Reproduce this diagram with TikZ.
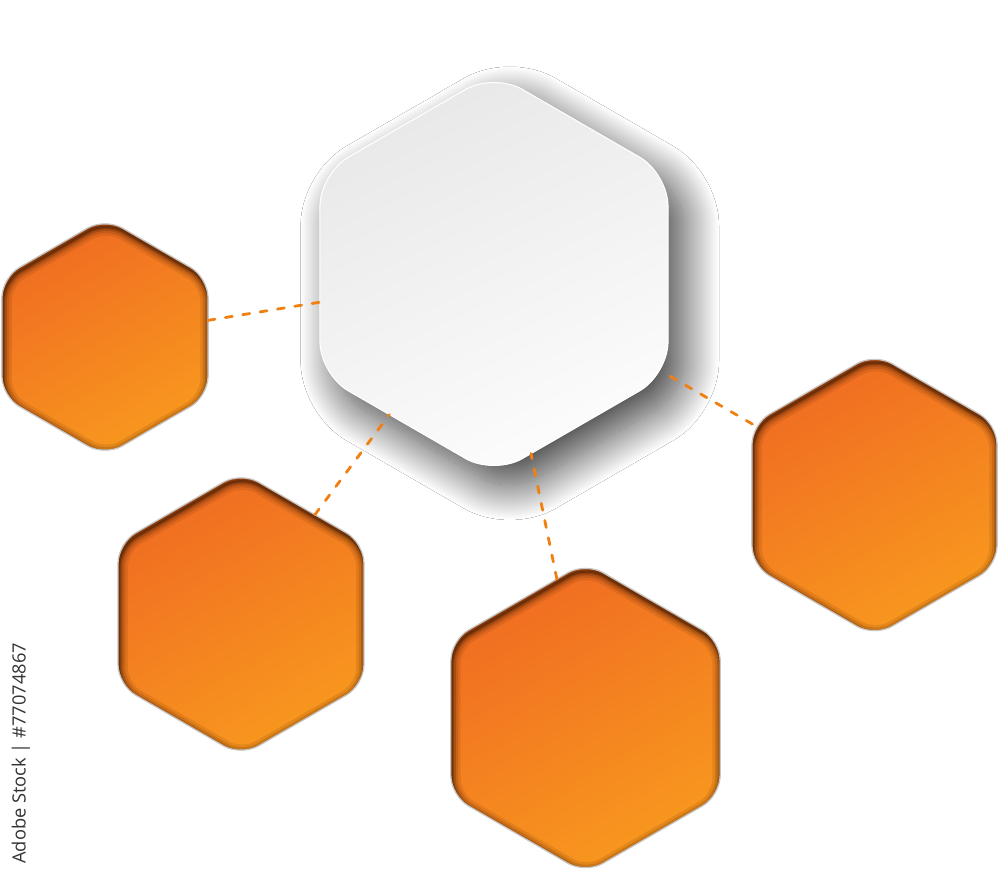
\documentclass[tikz,border=0pt]{standalone}
\usepackage{fontspec}
\setsansfont{Open Sans}
\usetikzlibrary{shapes.geometric,shadows.blur}

\definecolor{holedark}{RGB}{240,108,34}
\definecolor{holelight}{RGB}{248,152,30}
\definecolor{holerim}{RGB}{90,38,5}
\definecolor{linkorange}{RGB}{240,128,18}

\begin{document}
\begin{tikzpicture}[x=0.02cm, y=-0.02cm,
    hexagon/.style={regular polygon, regular polygon sides=6, shape border rotate=30,
                    inner sep=0pt, outer sep=0pt},
    hole/.style={hexagon, minimum size=#1, rounded corners=0.4cm,
                 draw=black!22, line width=0.7pt,
                 top color=holedark, bottom color=holelight, shading angle=30,
                 path picture={
                   \foreach \w/\o in {10pt/12,7pt/18,4.5pt/26,2.5pt/40,1.2pt/60}
                     \node[hexagon, minimum size=#1, rounded corners=0.4cm,
                           draw=holerim, line width=\w, draw opacity=0.\o]
                       at ([xshift=0.6pt, yshift=-1.8pt]path picture bounding box.center) {};
                 }},
    plate/.style={hexagon, minimum size=#1, rounded corners=0.65cm,
                  draw=white, line width=0.6pt,
                  top color=black!9, bottom color=black!1, shading angle=25,
                  blur shadow={shadow xshift=9pt, shadow yshift=-11pt,
                               shadow blur radius=20pt, shadow blur steps=40,
                               shadow opacity=75}},
    link/.style={draw=linkorange, line width=1.6pt, line cap=round,
                 dash pattern=on 4pt off 6pt}]

\useasboundingbox[fill=white] (0,0) rectangle (1000,872);

\node[hole=4.76cm] (hexleft)   at (105,337) {};
\node[hole=5.68cm] (hexlow)    at (241,614) {};
\node[hole=6.22cm] (hexbottom) at (585.5,718) {};
\node[hole=5.66cm] (hexright)  at (874.5,495) {};
\node[plate=8.04cm] (hexmain)  at (494,274) {};

\draw[link] (hexleft)   -- (hexmain);
\draw[link] (hexlow)    -- (hexmain);
\draw[link] (hexbottom) -- (hexmain);
\draw[link] (hexright)  -- (hexmain);

\node[rotate=90, anchor=west, inner sep=0pt, text=black!80,
      font=\sffamily\fontsize{10.4}{12}\selectfont] (credit) at (21,864) {Adobe Stock | \#77074867};
\end{tikzpicture}
\end{document}
